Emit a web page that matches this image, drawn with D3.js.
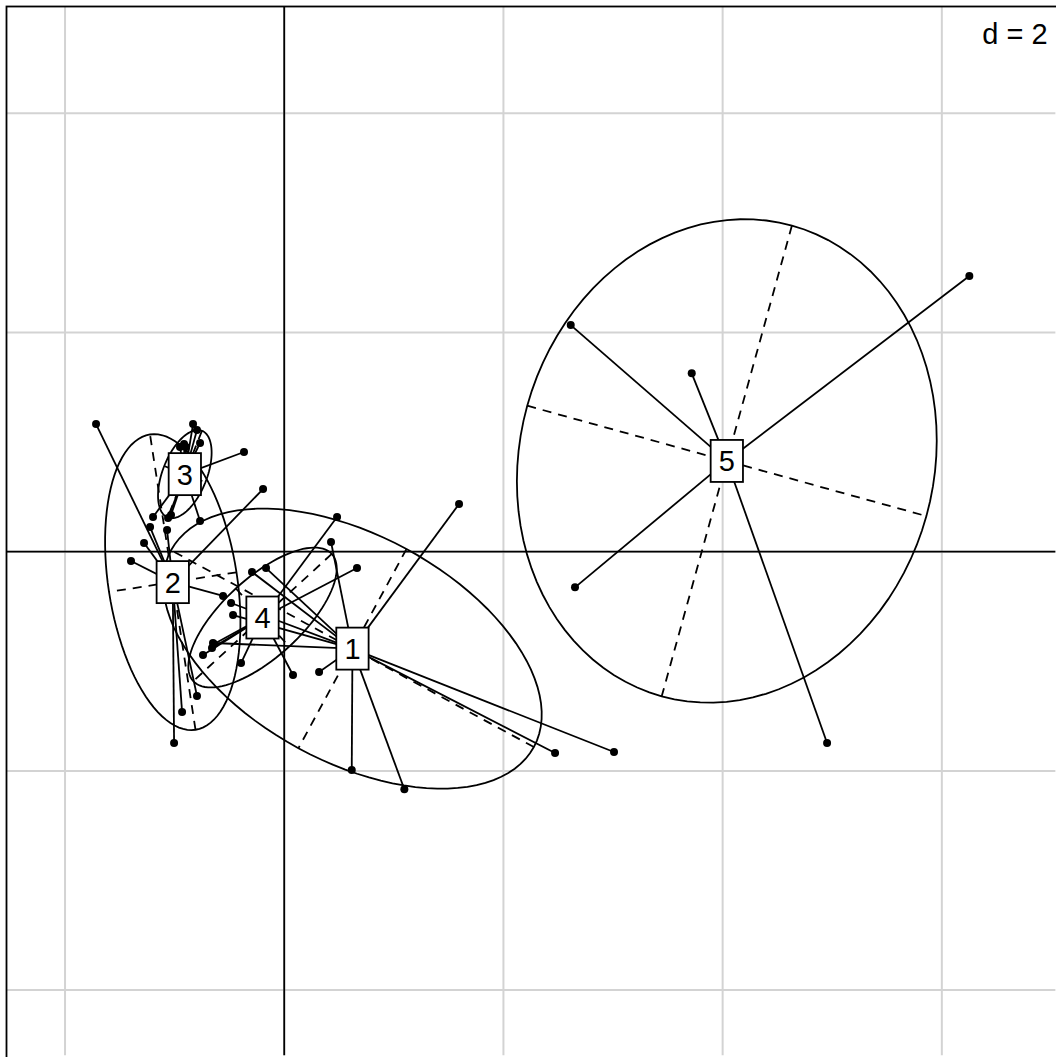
<!DOCTYPE html>
<html>
<head>
<meta charset="utf-8">
<script src="https://d3js.org/d3.v7.min.js"></script>
<style>
  html, body { margin: 0; padding: 0; background: #fff; overflow: hidden; }
  text { font-family: "Liberation Sans", Arial, sans-serif; }
</style>
</head>
<body>
<svg id="chart" width="1056" height="1057"></svg>
<script>
// Class labels and the row scores of each class (x, y)
const classLabels = ["1", "2", "3", "4", "5"];

const class1 = [
  [-0.294, -0.185], [-0.166, -0.149], [0.427, 0.089], [1.595, 0.435],
  [0.318, -1.098], [0.616, -1.992], [1.096, -2.168], [2.471, -1.837],
  [3.009, -1.828], [-0.485, -0.468], [-0.467, -0.578], [-0.650, -0.833]
];
const class2 = [
  [-1.717, 1.165], [-0.193, 0.572], [-1.224, 0.225], [-1.069, 0.198],
  [-1.279, 0.079], [-1.398, -0.085], [-0.796, -1.317], [-0.932, -1.463],
  [-1.005, -1.745], [-0.558, -0.404]
];
const class3 = [
  [-0.832, 1.165], [-0.796, 1.110], [-0.768, 0.992], [-0.914, 0.983],
  [-0.951, 0.955], [-0.896, 0.955], [-0.367, 0.910], [-1.197, 0.317],
  [-1.060, 0.307], [-1.033, 0.335], [-0.768, 0.280],
  // under the label box
  [-1.005, 0.691], [-0.914, 0.691], [-1.005, 0.599], [-0.914, 0.599],
  [-0.960, 0.663], [-0.960, 0.618], [-0.987, 0.645], [-0.905, 0.636]
];
const class4 = [
  [0.482, 0.317], [0.664, -0.149], [0.080, -1.125], [-0.741, -0.943],
  [-0.394, -1.016], [-0.659, -0.879], [-0.641, -0.842],
  // under the label box
  [-0.294, -0.441], [-0.239, -0.459], [-0.239, -0.468]
];
const class5 = [
  [6.251, 2.516], [2.614, 2.068], [3.718, 1.628], [2.653, -0.325],
  [4.953, -1.745],
  // under the label box
  [4.040, 0.828]
];

const classes = [class1, class2, class3, class4, class5];

// grid
const gridX = [-2, 0, 2, 4, 6];
const gridY = [-4, -2, 0, 2, 4];
const gridText = "d = 2";

// Define const
const cellipse = 1.5;
const lineW = 1.8;
const fontSize = 29;

var svg = d3.select("#chart");

const x = d3.scaleLinear().domain([-2.534, 7.038]).range([6.5, 1055.6]);
const y = d3.scaleLinear().domain([4.975, -4.598]).range([6.5, 1055.6]);

// ade4 style ellipse (weights 1/n)
function ellipse(pts, coeff) {
  const n = pts.length;
  const mx = d3.mean(pts, d => d[0]);
  const my = d3.mean(pts, d => d[1]);
  const vx = d3.sum(pts, d => (d[0] - mx) ** 2) / n;
  const vy = d3.sum(pts, d => (d[1] - my) ** 2) / n;
  const cxy = d3.sum(pts, d => (d[0] - mx) * (d[1] - my)) / n;
  const delta = Math.sqrt((vx - vy) * (vx - vy) + 4 * cxy * cxy);
  let l1 = (vx + vy + delta) / 2;
  let l2 = vx + vy - l1;
  l1 = Math.sqrt(Math.max(l1, 0));
  l2 = Math.sqrt(Math.max(l2, 0));
  let a0;
  if (Math.abs(cxy) < 1e-10) a0 = vx > vy ? Math.PI / 2 : 0;
  else a0 = Math.atan((l1 * l1 - vx) / cxy);
  const poly = [];
  for (let i = 0; i <= 100; i++) {
    const ct = Math.cos(2 * Math.PI * i / 100);
    const st = Math.sin(2 * Math.PI * i / 100);
    poly.push([
      mx + coeff * (Math.cos(a0) * st * l1 - Math.sin(a0) * ct * l2),
      my + coeff * (Math.sin(a0) * st * l1 + Math.cos(a0) * ct * l2)
    ]);
  }
  return { poly: poly, axes: [[poly[0], poly[50]], [poly[25], poly[75]]] };
}

// clip to plot region
svg.append("clipPath").attr("id", "plotclip")
  .append("rect")
  .attr("x", 6.5).attr("y", 6.5)
  .attr("width", 1049.1).attr("height", 1049.1);

const plot = svg.append("g").attr("clip-path", "url(#plotclip)");

// Grid
plot.append("g")
  .attr("stroke", "#d3d3d3")
  .attr("stroke-width", 2)
  .selectAll("line")
  .data(gridX)
  .join("line")
    .attr("x1", d => x(d)).attr("x2", d => x(d))
    .attr("y1", y.range()[0]).attr("y2", y.range()[1]);

plot.append("g")
  .attr("stroke", "#d3d3d3")
  .attr("stroke-width", 2)
  .selectAll("line")
  .data(gridY)
  .join("line")
    .attr("y1", d => y(d)).attr("y2", d => y(d))
    .attr("x1", x.range()[0]).attr("x2", x.range()[1]);

// "d = 2" label with white background
const xh = 81.4, x0 = 8.1, yh = 58, y0 = 8;
plot.append("rect")
  .attr("x", x.range()[1] - xh + x0)
  .attr("y", y.range()[0] + y0)
  .attr("width", xh - 2 * x0)
  .attr("height", yh - 2 * y0)
  .attr("fill", "white");
plot.append("text")
  .attr("x", x.range()[1] - xh / 2)
  .attr("y", y.range()[0] + 37)
  .attr("text-anchor", "middle")
  .attr("font-size", fontSize)
  .text(gridText);

// Axes through origin
plot.append("line")
  .attr("x1", x(0)).attr("x2", x(0))
  .attr("y1", y.range()[0]).attr("y2", y.range()[1])
  .attr("stroke", "black").attr("stroke-width", lineW);
plot.append("line")
  .attr("y1", y(0)).attr("y2", y(0))
  .attr("x1", x.range()[0]).attr("x2", x.range()[1])
  .attr("stroke", "black").attr("stroke-width", lineW);

// Points
classes.forEach(pts => {
  plot.append("g")
    .selectAll("circle")
    .data(pts)
    .join("circle")
      .attr("cx", d => x(d[0]))
      .attr("cy", d => y(d[1]))
      .attr("r", 4)
      .attr("fill", "black");
});

// Stars
classes.forEach(pts => {
  const mx = d3.mean(pts, d => d[0]);
  const my = d3.mean(pts, d => d[1]);
  plot.append("g")
    .attr("stroke", "black")
    .attr("stroke-width", lineW)
    .selectAll("line")
    .data(pts)
    .join("line")
      .attr("x1", x(mx)).attr("y1", y(my))
      .attr("x2", d => x(d[0])).attr("y2", d => y(d[1]));
});

// Ellipses + axes
const line = d3.line().x(d => x(d[0])).y(d => y(d[1]));
classes.forEach(pts => {
  const e = ellipse(pts, cellipse);
  plot.append("path")
    .attr("d", line(e.poly))
    .attr("fill", "none")
    .attr("stroke", "black")
    .attr("stroke-width", lineW);
  plot.append("g")
    .attr("stroke", "black")
    .attr("stroke-width", lineW)
    .attr("stroke-dasharray", "9,7")
    .selectAll("line")
    .data(e.axes)
    .join("line")
      .attr("x1", d => x(d[0][0])).attr("y1", d => y(d[0][1]))
      .attr("x2", d => x(d[1][0])).attr("y2", d => y(d[1][1]));
});

// Labels in boxes
const boxW = 32.3, boxH = 42;
const lab = plot.append("g")
  .selectAll("g")
  .data(classes.map((pts, i) => ({
    label: classLabels[i],
    x: d3.mean(pts, d => d[0]),
    y: d3.mean(pts, d => d[1])
  })))
  .join("g")
    .attr("transform", d => `translate(${x(d.x)},${y(d.y)})`);
lab.append("rect")
  .attr("x", -boxW / 2).attr("y", -boxH / 2)
  .attr("width", boxW).attr("height", boxH)
  .attr("fill", "white")
  .attr("stroke", "black")
  .attr("stroke-width", lineW);
lab.append("text")
  .attr("text-anchor", "middle")
  .attr("y", 10.4)
  .attr("font-size", fontSize)
  .text(d => d.label);

// Box (right and bottom sides fall just outside the window)
svg.append("rect")
  .attr("x", 6.5).attr("y", 6.5)
  .attr("width", 1055).attr("height", 1055)
  .attr("fill", "none")
  .attr("stroke", "black")
  .attr("stroke-width", lineW);
</script>
</body>
</html>
